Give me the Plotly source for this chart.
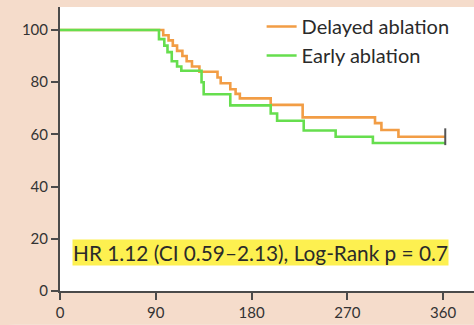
import plotly.graph_objects as go

# Kaplan-Meier step data (days, % event-free)
delayed_days = [0, 97, 102, 106, 110, 115, 119, 124, 131, 148, 151, 160, 165, 169, 198, 228, 296, 302, 318, 362]
delayed_surv = [100, 98, 96, 94, 92, 90, 88, 86, 84, 81.8, 79.6, 77.3, 75.5, 73.8, 71.3, 66.5, 64.3, 61.7, 59.1, 59.1]

early_days = [0, 93, 98, 101, 105, 110, 114, 133, 135, 160, 198, 204, 229, 259, 294, 362]
early_surv = [100, 96.5, 94, 91.5, 88, 86, 84.4, 80, 75.4, 71.1, 68, 65.2, 61.5, 59.1, 56.7, 56.7]

x_ticks = [0, 90, 180, 270, 360]
y_ticks = [0, 20, 40, 60, 80, 100]

stats_text = "HR 1.12 (CI 0.59\u20132.13), Log-Rank p = 0.7"

ORANGE = "#f29d45"
GREEN = "#66de4e"
AXIS = "#4a4a4a"
TEXT = "#2a2a2a"
FONT = "Lato"

fig = go.Figure()
fig.add_trace(go.Scatter(
    x=delayed_days, y=delayed_surv, mode="lines", line_shape="hv",
    line=dict(color=ORANGE, width=2.6), name="Delayed ablation", legendgroup="delayed",
))
fig.add_trace(go.Scatter(
    x=early_days, y=early_surv, mode="lines", line_shape="hv",
    line=dict(color=GREEN, width=2.6), name="Early ablation", legendgroup="early",
))
# censoring tick at the end of follow-up
fig.add_trace(go.Scatter(
    x=[delayed_days[-1]], y=[delayed_surv[-1]], mode="markers",
    marker=dict(symbol="line-ns", size=12, line=dict(color="#555555", width=2)),
    showlegend=False, hoverinfo="skip",
))

fig.add_annotation(
    x=11, y=14.6, xref="x", yref="y", xanchor="left", yanchor="middle",
    text=stats_text, showarrow=False,
    font=dict(family=FONT, size=20.8, color=TEXT),
    bgcolor="#fdf050", borderpad=0,
)

# rounded lower-left corner of the card
fig.add_shape(
    type="path", xref="paper", yref="paper", layer="above",
    path="M -0.2 -0.130 L -0.146 -0.130 Q -0.146 -0.1185 -0.108 -0.1185 L 1.2 -0.1185 L 1.2 -0.2 L -0.2 -0.2 Z",
    fillcolor="#f6eeeb", line=dict(width=0),
)

fig.update_layout(
    width=474, height=325,
    margin=dict(l=60, r=0, t=7, b=34),
    paper_bgcolor="#f5dccb",
    plot_bgcolor="#ffffff",
    font=dict(family=FONT, color=TEXT),
    showlegend=True,
    legend=dict(
        x=0.487, y=1.0, xanchor="left", yanchor="top",
        bgcolor="rgba(0,0,0,0)", font=dict(family=FONT, size=20, color=TEXT),
        itemwidth=30, tracegroupgap=0,
    ),
    xaxis=dict(
        range=[0, 389], tickvals=x_ticks, ticktext=[str(v) for v in x_ticks],
        showgrid=False, zeroline=False, showline=True, linecolor=AXIS, linewidth=2,
        ticks="outside", ticklen=7, tickwidth=2, tickcolor=AXIS,
        tickfont=dict(family=FONT, size=15, color="#333333"),
    ),
    yaxis=dict(
        range=[0, 108.8], tickvals=y_ticks, ticktext=[str(v) for v in y_ticks],
        showgrid=False, zeroline=False, showline=True, linecolor=AXIS, linewidth=2,
        ticks="outside", ticklen=7, tickwidth=2, tickcolor=AXIS,
        tickfont=dict(family=FONT, size=15, color="#333333"),
    ),
)

fig.write_html("out.html")
